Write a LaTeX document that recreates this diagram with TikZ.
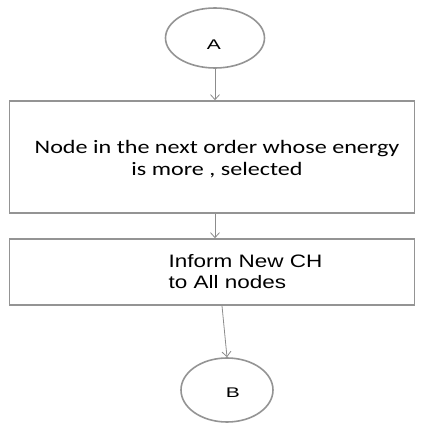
\documentclass[tikz,border=0pt]{standalone}
\usepackage{fontspec}
\setmainfont{Liberation Sans}
\newfontfamily\calib{Carlito}
\usetikzlibrary{arrows.meta,shapes.geometric}
\begin{document}
\begin{tikzpicture}[x=1pt,y=-1pt,
  shapeline/.style={draw=black!42,line width=1.6pt},
  conn/.style={draw=black!45,line width=0.8pt,-{Straight Barb[length=5pt,width=9pt]}},
  oval/.style={shapeline,ellipse,inner sep=0pt},
  boxy/.style={shapeline,rectangle,inner sep=0pt}]
\useasboundingbox (0,0) rectangle (424,423);
\node[oval,minimum width=99pt,minimum height=60pt] (A) at (215,38) {};
\node[font=\fontsize{14}{14}\selectfont] (tA) at (214,45) {\scalebox{1.5}[1]{A}};
\node[boxy,minimum width=405pt,minimum height=112pt] (b1) at (212,157) {};
\node[align=center,font=\calib\fontsize{19}{22}\selectfont] (t1) at (217,159) {\scalebox{1.27}[1]{Node in the next order whose energy}\\\scalebox{1.27}[1]{is more , selected}};
\node[boxy,minimum width=405pt,minimum height=66pt] (b2) at (212,272) {};
\node[align=left,anchor=west,font=\fontsize{18}{21}\selectfont] (t2) at (165,272) {\scalebox{1.25}[1]{Inform New CH}\\\scalebox{1.25}[1]{to All nodes}};
\node[oval,minimum width=92pt,minimum height=64pt] (B) at (227,390) {};
\node[font=\fontsize{14}{14}\selectfont] (tB) at (233,393) {\scalebox{1.5}[1]{B}};
\draw[conn] (A.south) -- (b1.north -| A.south);
\draw[conn] (b1.south -| A.south) -- (b2.north -| A.south);
\draw[conn] ([xshift=10pt]b2.south) -- (B.north);
\end{tikzpicture}
\end{document}
